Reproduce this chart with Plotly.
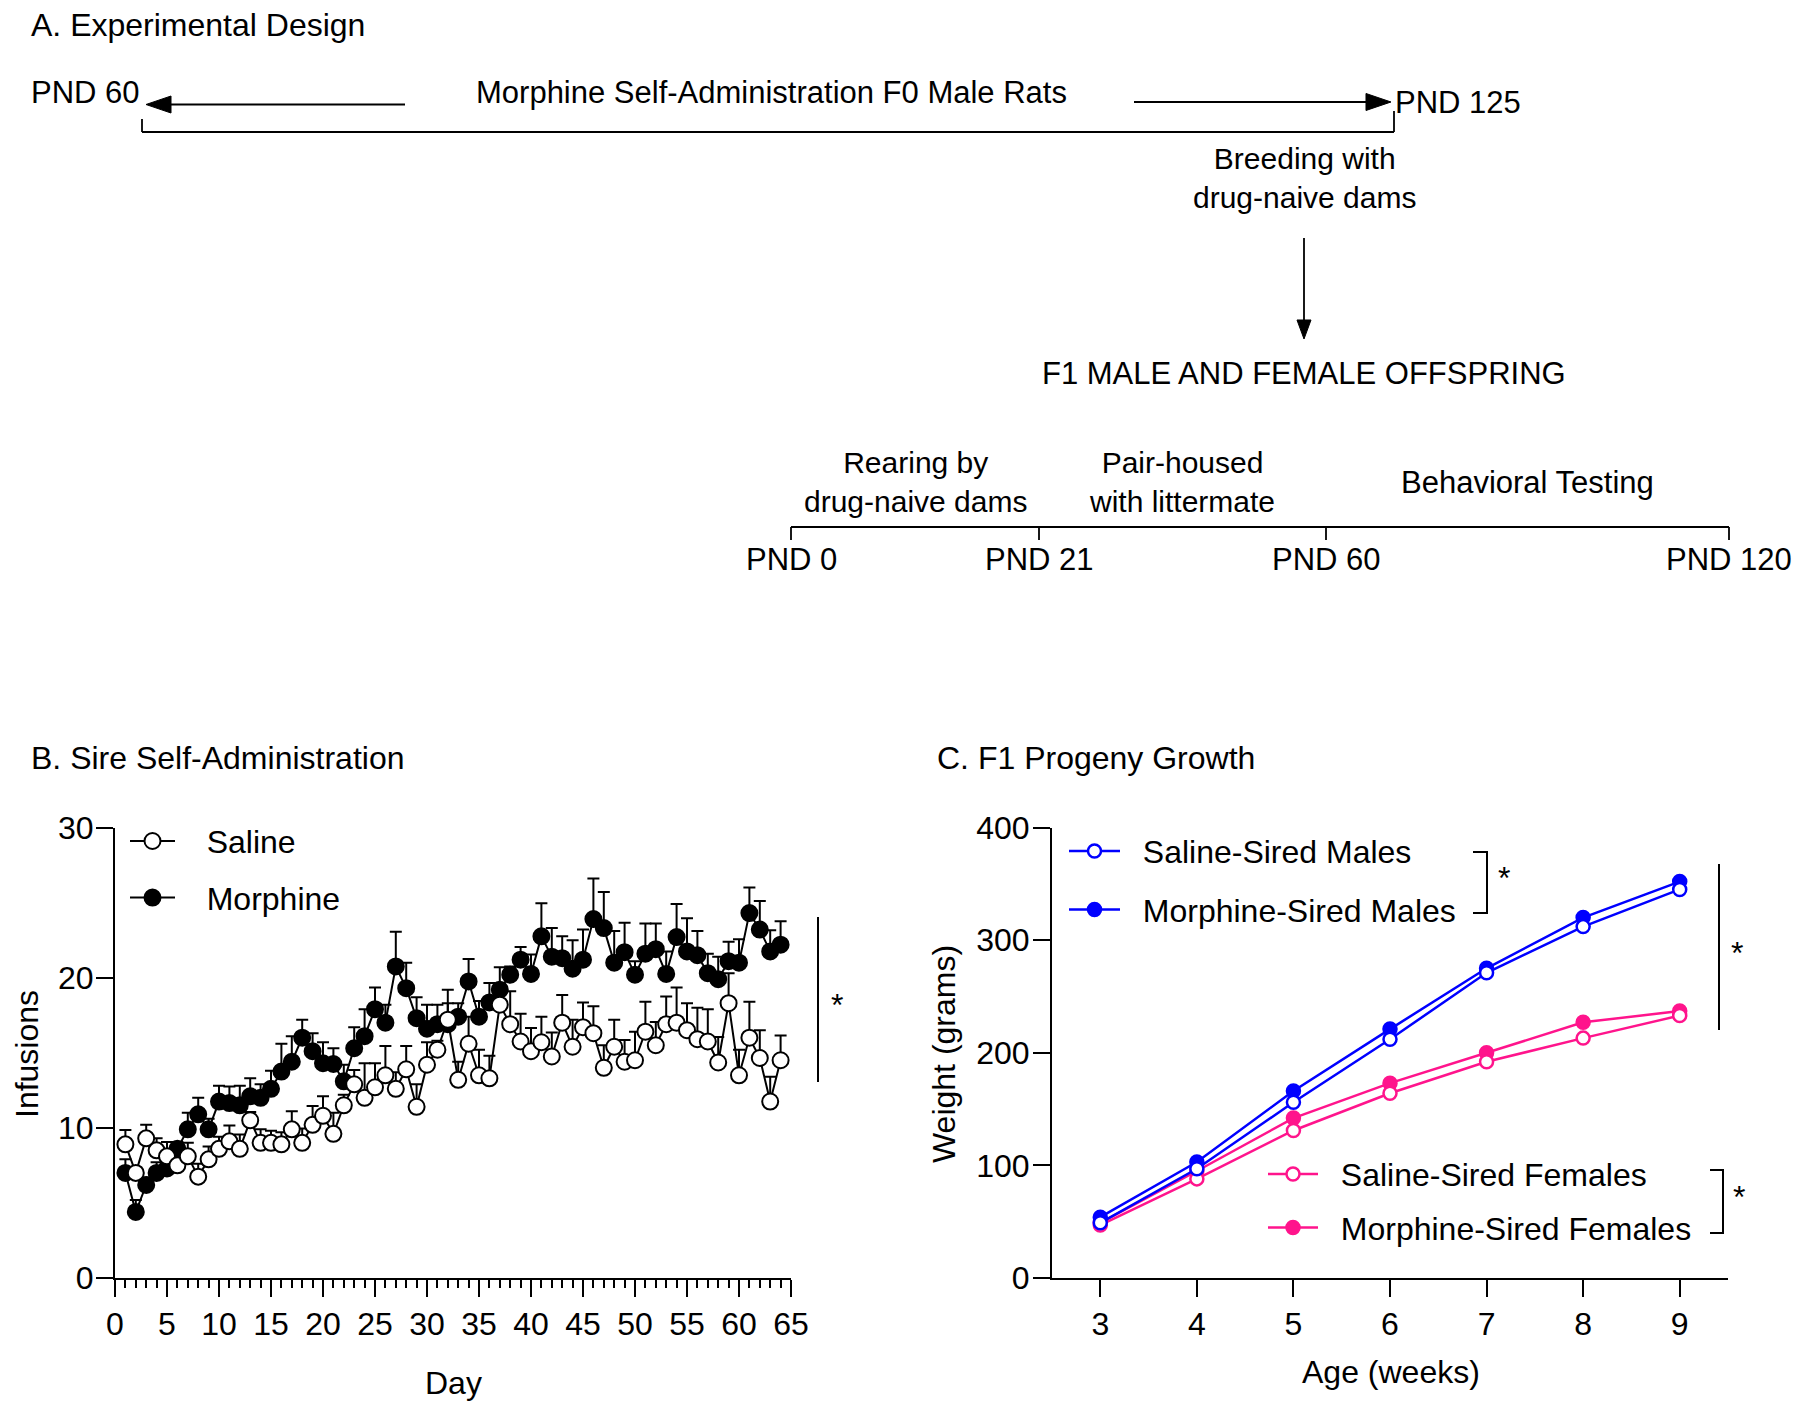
import plotly.graph_objects as go

W, H = 1800, 1412
OFF = 8  # page body margin that offsets the figure inside the browser window
FONT = "Liberation Sans, Arial, sans-serif"
NB = "\u00a0"

# ---------------- Panel B data ----------------
days = list(range(1, 65))
saline_inf = [8.9, 7.0, 9.3, 8.5, 8.1, 7.5, 8.1, 6.75, 7.9, 8.6,
              9.1, 8.6, 10.5, 9.0, 9.0, 8.9, 9.9, 9.0, 10.2, 10.8,
              9.6, 11.5, 12.9, 12.0, 12.7, 13.5, 12.6, 13.9, 11.4, 14.2,
              15.2, 17.2, 13.2, 15.6, 13.5, 13.3, 18.2, 16.9, 15.75, 15.1,
              15.7, 14.75, 17.0, 15.4, 16.7, 16.3, 14.0, 15.4, 14.4, 14.5,
              16.4, 15.5, 16.9, 17.0, 16.5, 15.9, 15.75, 14.35, 18.3, 13.5,
              16.0, 14.65, 11.75, 14.5]
saline_sem = [0.95, 0.3, 0.9, 0.8, 0.95, 0.45, 0.9, 0.85, 0.85, 0.8,
              1.05, 0.95, 0.55, 0.9, 0.8, 0.8, 1.2, 0.95, 1.25, 1.3,
              1.4, 0.7, 0.95, 2.3, 1.6, 1.95, 1.1, 1.55, 1.5, 1.5,
              0.6, 2.0, 1.2, 1.8, 1.7, 1.5, 0.9, 2.2, 1.85, 1.55,
              1.7, 1.6, 1.85, 1.8, 1.65, 1.8, 1.5, 1.8, 1.45, 1.9,
              2.0, 1.55, 1.85, 2.35, 1.8, 2.1, 2.15, 1.7, 2.0, 1.7,
              2.4, 1.85, 1.65, 1.65]
morphine_inf = [7.0, 4.4, 6.2, 7.0, 7.3, 8.6, 9.9, 10.9, 9.9, 11.75,
                11.65, 11.5, 12.1, 12.0, 12.6, 13.75, 14.4, 16.0, 15.1, 14.3,
                14.25, 13.1, 15.3, 16.1, 17.9, 17.0, 20.75, 19.3, 17.3, 16.6,
                16.9, 16.9, 17.4, 19.75, 17.4, 18.35, 19.2, 20.2, 21.2, 20.25,
                22.75, 21.4, 21.3, 20.6, 21.2, 23.9, 23.3, 21.0, 21.7, 20.2,
                21.6, 21.9, 20.25, 22.7, 21.75, 21.5, 20.3, 19.9, 21.1, 21.0,
                24.3, 23.2, 21.75, 22.2]
morphine_sem = [0.9, 0.8, 0.5, 0.7, 0.6, 0.45, 1.1, 1.1, 0.7, 1.05,
                1.1, 1.3, 1.2, 0.9, 1.2, 1.85, 1.7, 1.2, 1.2, 1.4,
                1.05, 1.1, 1.4, 1.8, 1.45, 1.2, 2.3, 1.7, 1.4, 1.6,
                1.3, 1.4, 0.9, 1.5, 1.05, 1.3, 1.5, 0.55, 0.85, 1.3,
                2.2, 1.9, 1.45, 1.9, 2.0, 2.7, 2.4, 2.1, 1.95, 0.9,
                2.0, 1.7, 1.5, 2.2, 2.2, 1.6, 1.3, 1.5, 1.3, 1.55,
                1.7, 1.9, 1.4, 1.55]

# ---------------- Panel C data ----------------
weeks = [3, 4, 5, 6, 7, 8, 9]
saline_males = [49, 97, 156, 212, 271, 312, 345]
morphine_males = [54, 103, 166, 221, 275, 320, 352]
saline_females = [47, 88, 131, 164, 192, 213, 233]
morphine_females = [49, 95, 142, 173, 200, 227, 237]

BLUE = "#0000ff"
PINK = "#ff148c"


def px(x):
    return (x - OFF) / W


def py(y):
    return 1 - (y - OFF) / H


fig = go.Figure()

# Panel B traces (morphine drawn first, saline on top)
fig.add_trace(go.Scatter(
    x=days, y=morphine_inf, name=NB * 3 + "Morphine", mode="lines+markers",
    line=dict(color="black", width=2),
    marker=dict(symbol="circle", size=16, color="black", line=dict(color="black", width=2)),
    error_y=dict(type="data", symmetric=False, array=morphine_sem,
                 arrayminus=[0] * len(morphine_sem), color="black", thickness=2, width=6),
    xaxis="x", yaxis="y", legend="legend", legendgroup="m", legendrank=2))
fig.add_trace(go.Scatter(
    x=days, y=saline_inf, name=NB * 3 + "Saline", mode="lines+markers",
    line=dict(color="black", width=2),
    marker=dict(symbol="circle", size=16, color="white", line=dict(color="black", width=2)),
    error_y=dict(type="data", symmetric=False, array=saline_sem,
                 arrayminus=[0] * len(saline_sem), color="black", thickness=2, width=6),
    xaxis="x", yaxis="y", legend="legend", legendgroup="s", legendrank=1))


# Panel C traces
def c_trace(yv, name, color, filled, legend, group, rank):
    return go.Scatter(
        x=weeks, y=yv, name=NB * 2 + name, mode="lines+markers",
        line=dict(color=color, width=2.5),
        marker=dict(symbol="circle", size=13, color=color if filled else "white",
                    line=dict(color=color, width=2.5)),
        xaxis="x2", yaxis="y2", legend=legend, legendgroup=group, legendrank=rank)


fig.add_trace(c_trace(morphine_females, "Morphine-Sired Females", PINK, True, "legend3", "mf", 2))
fig.add_trace(c_trace(saline_females, "Saline-Sired Females", PINK, False, "legend3", "sf", 1))
fig.add_trace(c_trace(morphine_males, "Morphine-Sired Males", BLUE, True, "legend2", "mm", 2))
fig.add_trace(c_trace(saline_males, "Saline-Sired Males", BLUE, False, "legend2", "sm", 1))

ydom = [py(1278), py(827.5)]
axis_common = dict(showline=True, linewidth=2, linecolor="black", ticks="outside",
                   tickwidth=2, tickcolor="black", ticklen=17, showgrid=False,
                   zeroline=False, tickfont=dict(size=32, color="black", family=FONT))

legend_common = dict(xanchor="left", yanchor="top", bgcolor="rgba(0,0,0,0)",
                     borderwidth=0, traceorder="grouped",
                     font=dict(size=32, color="black", family=FONT))

fig.update_layout(
    width=W, height=H, autosize=False,
    margin=dict(l=0, r=0, t=0, b=0, pad=0, autoexpand=False),
    paper_bgcolor="white", plot_bgcolor="white",
    font=dict(family=FONT, color="black"),
    xaxis=dict(domain=[px(115), px(791)], range=[0, 65], anchor="y",
               tickmode="linear", tick0=0, dtick=5,
               minor=dict(dtick=1, tick0=0, ticks="outside", ticklen=8, tickwidth=2,
                          tickcolor="black", showgrid=False),
               **axis_common),
    yaxis=dict(domain=ydom, range=[0, 30], anchor="x", tickmode="linear", tick0=0, dtick=10,
               ticklabelstandoff=-4, **axis_common),
    xaxis2=dict(domain=[px(1052), px(1728)], range=[2.5, 9.5], anchor="y2",
                tickmode="linear", tick0=3, dtick=1, **axis_common),
    yaxis2=dict(domain=ydom, range=[0, 400], anchor="x2", tickmode="linear", tick0=0, dtick=100,
                ticklabelstandoff=-3, **axis_common),
    legend=dict(x=px(125), y=py(813.7), itemwidth=45, tracegroupgap=12, **legend_common),
    legend2=dict(x=px(1064), y=py(823.7), itemwidth=51, tracegroupgap=14, **legend_common),
    legend3=dict(x=px(1263), y=py(1146.7), itemwidth=50, tracegroupgap=9, **legend_common),
)

annotations = []


def ann(text, x, y, size=31, xanchor="center", angle=0):
    if xanchor == "left":
        x -= 2
    annotations.append(dict(text=text, x=px(x), y=py(y), xref="paper", yref="paper",
                            showarrow=False, xanchor=xanchor, yanchor="middle",
                            textangle=angle, borderpad=0,
                            font=dict(size=size, color="black", family=FONT)))


# Panel titles
ann("A. Experimental Design", 32, 25, size=32, xanchor="left")
ann("B. Sire Self-Administration", 32, 758, size=32, xanchor="left")
ann("C. F1 Progeny Growth", 938, 758, size=32, xanchor="left")

# Panel A texts
ann("PND 60", 32, 92, xanchor="left")
ann("Morphine Self-Administration F0 Male Rats", 771, 92)
ann("PND 125", 1396, 102, xanchor="left")
ann("Breeding with<br>drug-naive dams", 1304, 178, size=30)
ann("F1 MALE AND FEMALE OFFSPRING", 1304, 373)
ann("Rearing by<br>drug-naive dams", 915, 482, size=30)
ann("Pair-housed<br>with littermate", 1182, 482, size=30)
ann("Behavioral Testing", 1527, 482)
for lab, xx in [("PND 0", 791), ("PND 21", 1039), ("PND 60", 1326), ("PND 120", 1729)]:
    ann(lab, xx, 559)

# Axis titles
ann("Infusions", 27, 1054, size=32, angle=-90)
ann("Day", 453, 1383, size=32)
ann("Weight (grams)", 944, 1054, size=32, angle=-90)
ann("Age (weeks)", 1391, 1372, size=32)

# Significance asterisks
ann("*", 837, 1005, size=32)
ann("*", 1504, 878, size=32)
ann("*", 1737, 953, size=32)
ann("*", 1739, 1197, size=32)

shapes = []


def line(x0, y0, x1, y1, w=1.8):
    shapes.append(dict(type="line", xref="paper", yref="paper",
                       x0=px(x0), y0=py(y0), x1=px(x1), y1=py(y1),
                       line=dict(color="black", width=w)))


def poly(pts, w=1.8, fill=None):
    d = "M " + " L ".join(f"{px(a):.6f},{py(b):.6f}" for a, b in pts)
    if fill:
        d += " Z"
    shapes.append(dict(type="path", xref="paper", yref="paper", path=d,
                       fillcolor=fill if fill else "rgba(0,0,0,0)",
                       line=dict(color="black", width=w)))


# Panel A: arrows and bracket
line(165, 104.5, 405, 104.5)
poly([(146, 104.5), (171, 96), (171, 113)], w=1, fill="black")
line(1134, 102, 1372, 102)
poly([(1391, 102), (1366, 93.5), (1366, 110.5)], w=1, fill="black")
line(142, 132, 1394, 132)
line(142, 119, 142, 132)
line(1394, 111, 1394, 132)
line(1304, 238, 1304, 324)
poly([(1304, 339), (1297, 320), (1311, 320)], w=1, fill="black")
# Lower timeline
line(791, 527, 1729, 527)
for xx in [791, 1039, 1326, 1729]:
    line(xx, 527, xx, 540)

# Significance lines / brackets
line(818, 917, 818, 1082, w=2)
poly([(1473, 852), (1487, 852), (1487, 913), (1473, 913)], w=2)
line(1719, 864, 1719, 1030, w=2)
poly([(1710, 1170), (1723, 1170), (1723, 1233), (1710, 1233)], w=2)

fig.update_layout(annotations=annotations, shapes=shapes)

fig.write_html("out.html")
